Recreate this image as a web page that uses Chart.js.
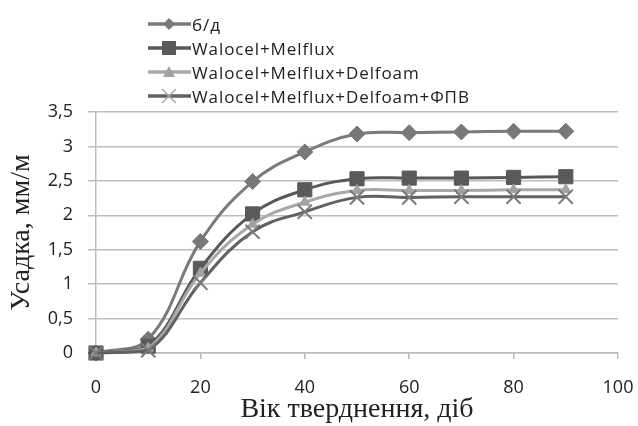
<!DOCTYPE html>
<html>
<head>
<meta charset="utf-8">
<script src="https://cdn.jsdelivr.net/npm/chart.js@4"></script>
<style>
  html, body { margin: 0; padding: 0; background: #fff; }
  #wrap { position: relative; width: 638px; height: 426px; }
  #legend { position: absolute; left: 148px; top: 12px; font-family: "Open Sans", sans-serif; font-size: 17px; letter-spacing: 0.9px; color: #222; }
  .row { height: 24px; display: flex; align-items: center; white-space: nowrap; }
  .row svg { margin-right: 1px; }
</style>
</head>
<body>
<div id="wrap">
  <canvas id="chart" width="638" height="426"></canvas>
  <div id="legend"></div>
</div>
<script>
// дані
const days = [0, 10, 20, 30, 40, 50, 60, 70, 80, 90];
const seriesNames = ["б/д", "Walocel+Melflux", "Walocel+Melflux+Delfoam", "Walocel+Melflux+Delfoam+ФПВ"];
const bd   = [0, 0.20, 1.62, 2.49, 2.92, 3.18, 3.20, 3.21, 3.22, 3.22];
const wm   = [0, 0.10, 1.23, 2.02, 2.37, 2.53, 2.54, 2.54, 2.55, 2.56];
const wmd  = [0, 0.07, 1.16, 1.87, 2.19, 2.36, 2.36, 2.36, 2.37, 2.37];
const wmdf = [0, 0.04, 1.02, 1.76, 2.05, 2.26, 2.26, 2.27, 2.27, 2.27];
const xTicks = [0, 20, 40, 60, 80, 100];
const yTicks = [0, 0.5, 1, 1.5, 2, 2.5, 3, 3.5];

// стиль серій
const styles = [
  { line: "#7a7a7a", fill: "#787878", point: "rectRot",  r: 8,  bw: 1 },
  { line: "#585858", fill: "#5a5a5a", point: "rect",     r: 10, bw: 1 },
  { line: "#a8a8a8", fill: "#a2a2a2", point: "triangle", r: 6,  bw: 1 },
  { line: "#616161", fill: "#7a7a7a", point: "crossRot", r: 10, bw: 2 }
];
const values = [bd, wm, wmd, wmdf];

const datasets = values.map((vals, i) => ({
  label: seriesNames[i],
  data: days.map((d, k) => ({ x: d, y: vals[k] })),
  borderColor: styles[i].line,
  borderWidth: 3,
  backgroundColor: styles[i].fill,
  pointStyle: styles[i].point,
  pointRadius: styles[i].r,
  pointBorderColor: styles[i].fill,
  pointBorderWidth: styles[i].bw,
  pointBackgroundColor: styles[i].fill,
  tension: 0.4,
  showLine: true,
  clip: false,
  order: 4 - i
}));

new Chart(document.getElementById("chart"), {
  type: "scatter",
  data: { datasets: datasets },
  options: {
    responsive: false,
    animation: false,
    devicePixelRatio: 1,
    layout: { padding: { top: 112, right: 20, left: 0, bottom: 0 } },
    plugins: { legend: { display: false }, tooltip: { enabled: false } },
    scales: {
      x: {
        type: "linear",
        min: 0, max: 100,
        afterBuildTicks: s => { s.ticks = xTicks.map(v => ({ value: v })); },
        afterFit: s => { s.height = 426 - 353; s.paddingLeft = 0; s.paddingRight = 0; },
        grid: { drawOnChartArea: false, drawTicks: true, tickLength: 6, color: "#bdbdbd", lineWidth: 1.5 },
        border: { color: "#bdbdbd", width: 1.5 },
        ticks: { padding: 18, color: "#222", font: { family: "Open Sans", size: 18 }, maxRotation: 0 },
        title: { display: true, text: "Вік тверднення, діб", color: "#222",
                 font: { family: "Liberation Serif", size: 28 }, padding: { top: 0, bottom: 0 } }
      },
      y: {
        type: "linear",
        min: 0, max: 3.5,
        afterBuildTicks: s => { s.ticks = yTicks.map(v => ({ value: v })); },
        afterFit: s => { s.width = 96; },
        grid: { drawOnChartArea: true, drawTicks: true, tickLength: 8, color: "#bdbdbd", lineWidth: 1.5 },
        border: { color: "#bdbdbd", width: 1.5 },
        ticks: { padding: 15, color: "#222", font: { family: "Open Sans", size: 18 },
                 callback: v => String(v).replace(".", ",") },
        title: { display: true, text: "Усадка, мм/м", color: "#222",
                 font: { family: "Liberation Serif", size: 28 }, padding: { top: 5, bottom: 0 } }
      }
    }
  }
});

// легенда у стовпчик (як в Excel)
function markerSvg(st) {
  const c = 21, cy = 11;
  let m = "";
  if (st.point === "rectRot") m = `<polygon points="${c},${cy-6} ${c+6},${cy} ${c},${cy+6} ${c-6},${cy}" fill="${st.fill}"/>`;
  if (st.point === "rect") m = `<rect x="${c-7}" y="${cy-7}" width="14" height="14" fill="${st.fill}"/>`;
  if (st.point === "triangle") m = `<polygon points="${c},${cy-6} ${c+6},${cy+5} ${c-6},${cy+5}" fill="${st.fill}"/>`;
  if (st.point === "crossRot") m = `<path d="M${c-7},${cy-7}L${c+7},${cy+7}M${c+7},${cy-7}L${c-7},${cy+7}" stroke="#aaa" stroke-width="1.5"/>`;
  return `<svg width="43" height="22"><line x1="0" y1="${cy}" x2="43" y2="${cy}" stroke="${st.line}" stroke-width="3.5"/>${m}</svg>`;
}
const legend = document.getElementById("legend");
for (let i = 0; i < seriesNames.length; i++) {
  legend.insertAdjacentHTML("beforeend", `<div class="row">${markerSvg(styles[i])}<span>${seriesNames[i]}</span></div>`);
}
</script>
</body>
</html>
